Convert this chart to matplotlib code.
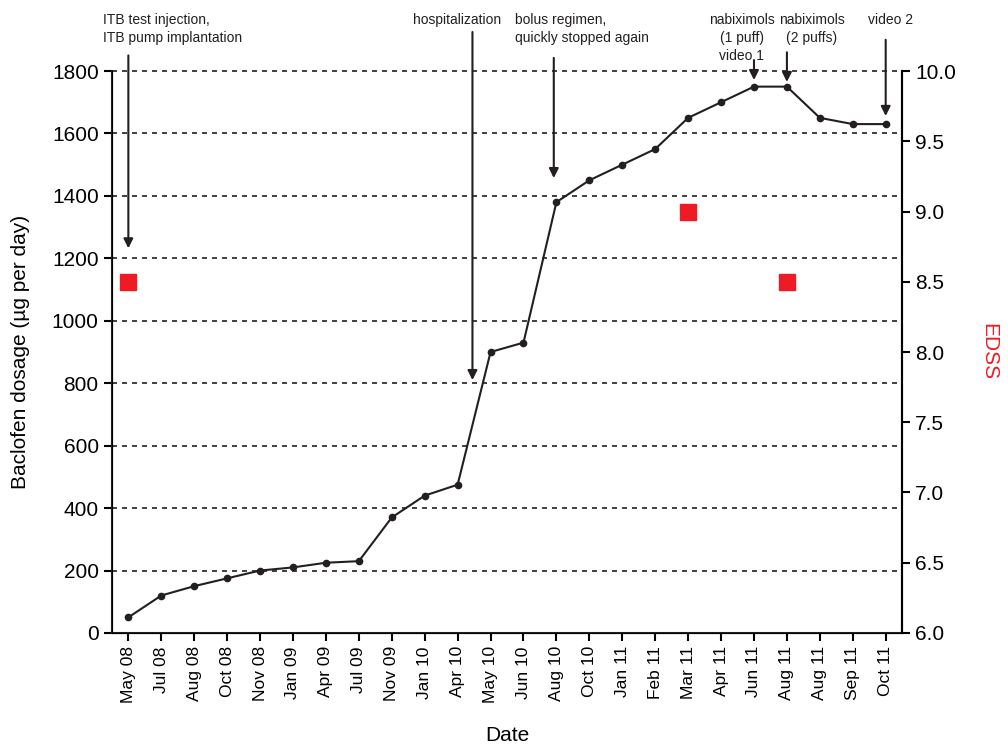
import matplotlib
matplotlib.use('Agg')
import matplotlib.pyplot as plt

plt.rcParams['font.family'] = ['Liberation Sans', 'DejaVu Sans']

dates = ['May 08', 'Jul 08', 'Aug 08', 'Oct 08', 'Nov 08', 'Jan 09', 'Apr 09',
         'Jul 09', 'Nov 09', 'Jan 10', 'Apr 10', 'May 10', 'Jun 10', 'Aug 10',
         'Oct 10', 'Jan 11', 'Feb 11', 'Mar 11', 'Apr 11', 'Jun 11', 'Aug 11',
         'Aug 11', 'Sep 11', 'Oct 11']
dosage = [50, 120, 150, 175, 200, 210, 225, 230, 370, 440, 475, 900, 930,
          1380, 1450, 1500, 1550, 1650, 1700, 1750, 1750, 1650, 1630, 1630]
edss_idx = [0, 17, 20]
edss = [8.5, 9.0, 8.5]

# arrow events: x position (index), arrow start, arrow tip (dosage units)
events_x = [0, 10.45, 12.92, 19, 20, 23]
events_start = [1850, 1925, 1842, 1835, 1860, 1900]
events_tip = [1232, 810, 1457, 1771, 1765, 1656]

labels = [('ITB test injection,\nITB pump implantation', -0.76, 'left'),
          ('hospitalization', 9.97, 'center'),
          ('bolus regimen,\nquickly stopped again', 11.73, 'left'),
          ('nabiximols\n(1 puff)\nvideo 1', 18.63, 'center'),
          ('nabiximols\n(2 puffs)', 20.75, 'center'),
          ('video 2', 23.15, 'center')]

x = list(range(len(dates)))

fig = plt.figure(figsize=(10.08, 7.46), dpi=100)
ax = fig.add_axes([0.111, 0.1515, 0.784, 0.7533])

ax.plot(x, dosage, color='#231f20', lw=1.5, marker='o', ms=4.5, zorder=3)
ax.set_xlim(-0.5, 23.5)
ax.set_ylim(0, 1800)
ax.set_yticks(range(0, 1801, 200))
ax.set_xticks(x)
ax.set_xticklabels(dates, rotation=90, fontsize=12.5)
ax.tick_params(axis='y', labelsize=15, direction='out', length=6, width=1.5)
ax.tick_params(axis='x', direction='out', length=6, width=1.5)
for yv in range(200, 1801, 200):
    ax.axhline(yv, color='#231f20', lw=1.2, ls=(0, (3, 3)), zorder=1,
               clip_on=False)

ax.spines['top'].set_visible(False)
for s in ['left', 'bottom', 'right']:
    ax.spines[s].set_linewidth(1.5)
    ax.spines[s].set_color('#231f20')

ax.set_ylabel('Baclofen dosage (µg per day)', fontsize=15, labelpad=16)
ax.set_xlabel('Date', fontsize=15, labelpad=16)

ax2 = ax.twinx()
ax2.set_ylim(6.0, 10.0)
ax2.set_yticks([6.0, 6.5, 7.0, 7.5, 8.0, 8.5, 9.0, 9.5, 10.0])
ax2.set_yticklabels(['%.1f' % v for v in ax2.get_yticks()])
ax2.tick_params(axis='y', labelsize=15, direction='out', length=6, width=1.5)
ax2.spines['top'].set_visible(False)
ax2.spines['right'].set_linewidth(1.5)
ax2.plot([x[i] for i in edss_idx], edss, ls='none', marker='s', ms=11,
         color='#ed1c24', zorder=4)
ax2.set_ylabel('EDSS', color='#ed1c24', fontsize=15, rotation=270, labelpad=30)

for ex, es, et in zip(events_x, events_start, events_tip):
    ax.annotate('', xy=(ex, et), xytext=(ex, es), annotation_clip=False,
                arrowprops=dict(arrowstyle='-|>', color='#231f20', lw=1.5,
                                shrinkA=0, shrinkB=0, mutation_scale=14))

for txt, tx, ha in labels:
    ax.text(tx, 1985, txt, ha=ha, va='top', fontsize=10, linespacing=1.35,
            color='#231f20', clip_on=False)

fig.savefig('out.png', dpi=100)
